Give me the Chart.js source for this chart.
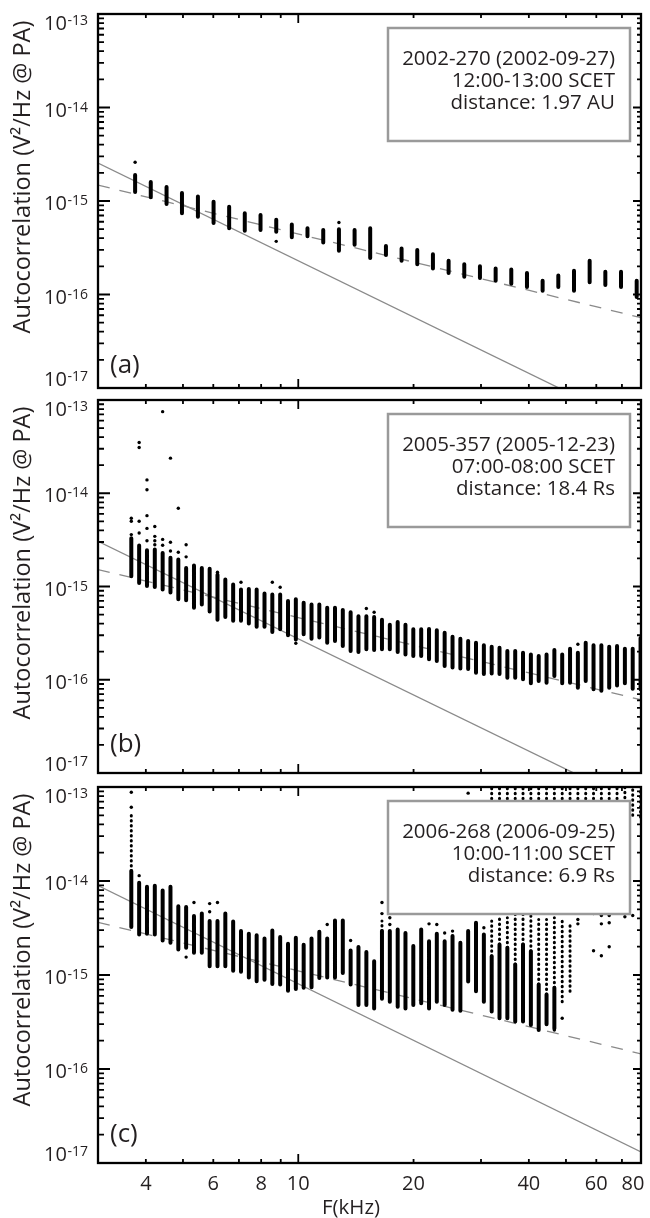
<!DOCTYPE html>
<html>
<head>
<meta charset="utf-8">
<script src="https://cdn.jsdelivr.net/npm/chart.js@4.4.1/dist/chart.umd.min.js"></script>
<style>
  html, body { margin: 0; padding: 0; background: #fff; }
  #wrap { position: relative; width: 650px; height: 1218px; }
  canvas { position: absolute; left: 0; }
</style>
</head>
<body>
<div id="wrap">
  <canvas id="panelA" width="650" height="394" style="top:0px"></canvas>
  <canvas id="panelB" width="650" height="386" style="top:394px"></canvas>
  <canvas id="panelC" width="650" height="438" style="top:780px"></canvas>
</div>
<script>
// frequency channels (kHz)
const freqA = [3.75, 4.12, 4.53, 4.97, 5.47, 6.01, 6.60, 7.25, 7.97, 8.76, 9.62, 10.57, 11.62,
  12.77, 14.03, 15.41, 16.94, 18.61, 20.45, 22.47, 24.69, 27.13, 29.81, 32.76, 35.99, 39.55,
  43.45, 47.75, 52.47, 57.65, 63.35, 69.61, 76.49];
const freqBC = [3.665, 3.842, 4.027, 4.221, 4.425, 4.638, 4.862, 5.096, 5.342, 5.600, 5.870,
  6.153, 6.450, 6.761, 7.087, 7.429, 7.787, 8.163, 8.556, 8.969, 9.402, 9.855, 10.33, 10.83,
  11.35, 11.90, 12.47, 13.07, 13.70, 14.36, 15.06, 15.78, 16.54, 17.34, 18.18, 19.05, 19.97,
  20.94, 21.95, 23.00, 24.11, 25.28, 26.50, 27.77, 29.11, 30.52, 31.99, 33.53, 35.15, 36.85,
  38.62, 40.49, 42.44, 44.49, 46.63, 48.88, 51.24, 53.71, 56.30, 59.01, 61.86, 64.84, 67.97,
  71.25, 74.68, 78.29];

// panel (a): spread of each channel
const lowA = [1.25e-15, 1.1e-15, 9.3e-16, 7.4e-16, 6.8e-16, 5.8e-16, 5.1e-16, 4.8e-16, 4.9e-16,
  4.7e-16, 4.1e-16, 4.2e-16, 3.6e-16, 2.94e-16, 3.4e-16, 2.45e-16, 2.65e-16, 2.3e-16, 2.1e-16,
  1.9e-16, 1.7e-16, 1.55e-16, 1.5e-16, 1.4e-16, 1.3e-16, 1.2e-16, 1.1e-16, 1.2e-16, 1.1e-16,
  1.35e-16, 1.26e-16, 1.2e-16, 9.4e-17];
const highA = [1.9e-15, 1.6e-15, 1.41e-15, 1.22e-15, 1.12e-15, 9.8e-16, 8.7e-16, 7.4e-16, 7.1e-16,
  6.3e-16, 5.6e-16, 5.1e-16, 4.9e-16, 5.0e-16, 4.9e-16, 5.1e-16, 3.3e-16, 3.1e-16, 3.0e-16,
  2.7e-16, 2.3e-16, 2.1e-16, 2.0e-16, 1.9e-16, 1.85e-16, 1.7e-16, 1.4e-16, 1.6e-16, 1.8e-16,
  2.3e-16, 1.75e-16, 1.75e-16, 1.4e-16];
const extraA = [[0, 2.6e-15], [9, 3.7e-16], [13, 5.9e-16]];

// panel (b)
const lowB = [1.29e-15, 1.09e-15, 1.01e-15, 9.9e-16, 9.3e-16, 8.6e-16, 7.3e-16, 7.1e-16, 5.9e-16,
  6.4e-16, 5.4e-16, 4.4e-16, 4.7e-16, 4.3e-16, 4.3e-16, 4.0e-16, 3.7e-16, 3.7e-16, 3.25e-16,
  3.47e-16, 3.0e-16, 2.7e-16, 3.07e-16, 2.76e-16, 2.83e-16, 2.5e-16, 2.6e-16, 2.3e-16, 2.03e-16,
  1.98e-16, 2.12e-16, 2.08e-16, 2.12e-16, 2.12e-16, 1.98e-16, 1.87e-16, 1.8e-16, 1.8e-16,
  1.66e-16, 1.59e-16, 1.4e-16, 1.35e-16, 1.32e-16, 1.3e-16, 1.19e-16, 1.15e-16, 1.17e-16,
  1.15e-16, 1.05e-16, 1.05e-16, 1.01e-16, 9.2e-17, 9.7e-17, 9.3e-17, 1.1e-16, 9.2e-17, 9.3e-17,
  8.2e-17, 9.7e-17, 7.9e-17, 7.6e-17, 8.2e-17, 8.7e-17, 9.2e-17, 8.0e-17, 7.9e-17];
const highB = [3.3e-15, 2.75e-15, 2.45e-15, 2.49e-15, 2.29e-15, 2.03e-15, 1.95e-15, 1.58e-15,
  1.68e-15, 1.58e-15, 1.55e-15, 1.34e-15, 1.19e-15, 1.05e-15, 9.3e-16, 9.4e-16, 9.3e-16, 8.4e-16,
  8.2e-16, 8.2e-16, 7.0e-16, 7.3e-16, 6.7e-16, 6.4e-16, 6.4e-16, 5.9e-16, 5.9e-16, 5.6e-16,
  5.3e-16, 4.8e-16, 4.8e-16, 4.7e-16, 4.4e-16, 3.9e-16, 4.15e-16, 3.9e-16, 3.47e-16, 3.47e-16,
  3.5e-16, 3.4e-16, 3.2e-16, 2.9e-16, 2.76e-16, 2.6e-16, 2.5e-16, 2.34e-16, 2.26e-16, 2.21e-16,
  2.03e-16, 2.03e-16, 1.95e-16, 1.87e-16, 1.8e-16, 1.87e-16, 2.08e-16, 1.87e-16, 2.15e-16,
  1.95e-16, 2.5e-16, 2.34e-16, 2.34e-16, 2.26e-16, 2.3e-16, 2.15e-16, 2.15e-16, 2.8e-16];
const extraB = [[0, 3.6e-15], [0, 5.0e-15], [0, 5.4e-15], [1, 3.5e-14], [1, 3.1e-14], [1, 5.0e-15],
  [1, 3.75e-15], [2, 1.39e-14], [2, 1.09e-14], [2, 5.75e-15], [2, 4.2e-15], [2, 3.1e-15],
  [3, 4.4e-15], [3, 3.45e-15], [3, 3.1e-15], [3, 2.8e-15], [4, 7.5e-14], [4, 3.2e-15],
  [4, 2.77e-15], [5, 2.38e-14], [5, 2.98e-15], [5, 2.4e-15], [6, 6.9e-15], [6, 2.33e-15],
  [7, 2.8e-15], [7, 2.08e-15], [11, 1.42e-15], [14, 1.11e-15], [18, 1.11e-15], [19, 9.8e-16],
  [21, 2.46e-16], [30, 5.8e-16], [31, 5.3e-16], [57, 2.4e-16]];

// panel (c)
const lowC = [3.24e-15, 2.7e-15, 2.75e-15, 2.7e-15, 2.33e-15, 2.2e-15, 1.87e-15, 1.95e-15,
  1.72e-15, 1.72e-15, 1.24e-15, 1.24e-15, 1.24e-15, 1.11e-15, 1.08e-15, 9.4e-16, 8.6e-16, 8.9e-16,
  8.0e-16, 7.9e-16, 6.8e-16, 7.1e-16, 7.3e-16, 7.4e-16, 9.3e-16, 9.4e-16, 9.4e-16, 1.05e-15,
  7.9e-16, 4.8e-16, 4.8e-16, 4.4e-16, 5.6e-16, 5.2e-16, 4.6e-16, 4.4e-16, 4.8e-16, 5.0e-16,
  4.4e-16, 5.2e-16, 4.8e-16, 4.26e-16, 4.16e-16, 8.55e-16, 6.7e-16, 5.2e-16, 4.1e-16, 3.47e-16,
  3.47e-16, 3.2e-16, 3.2e-16, 2.94e-16, 2.6e-16, 3.0e-16, 2.7e-16, null, null, null, null, null,
  null, null, null, null, null, null];
const highC = [1.28e-14, 9.6e-15, 8.7e-15, 8.9e-15, 7.9e-15, 8.7e-15, 5.4e-15, 5.3e-15, 4.24e-15,
  4.5e-15, 3.75e-15, 3.75e-15, 4.5e-15, 3.7e-15, 2.93e-15, 2.75e-15, 2.65e-15, 2.45e-15, 2.98e-15,
  2.53e-15, 2.15e-15, 2.49e-15, 2.1e-15, 2.45e-15, 2.88e-15, 2.45e-15, 3.8e-15, 3.8e-15, 1.82e-15,
  1.98e-15, 1.76e-15, 1.4e-15, 2.93e-15, 2.93e-15, 3.05e-15, 2.8e-15, 2.03e-15, 3.05e-15,
  2.29e-15, 2.75e-15, 2.29e-15, 2.6e-15, 2.2e-15, 2.93e-15, 3.6e-15, 2.7e-15, 1.58e-15, 2.11e-15,
  1.95e-15, 1.29e-15, 2.11e-15, 1.79e-15, 7.9e-16, 6.2e-16, 7.3e-16, null, null, null, null, null,
  null, null, null, null, null, null];
// loosely filled stretches: [channel, low, high]
const sparseC = [[0, 1.28e-14, 5.0e-14], [32, 2.93e-15, 3.75e-15], [46, 1.58e-15, 3.75e-15],
  [47, 2.11e-15, 4.07e-15], [48, 1.95e-15, 4.07e-15], [49, 1.29e-15, 4.42e-15],
  [50, 2.11e-15, 4.42e-15], [51, 1.79e-15, 4.25e-15], [52, 7.9e-16, 3.9e-15],
  [53, 6.2e-16, 3.9e-15], [54, 7.3e-16, 4.07e-15], [55, 5.2e-16, 4.07e-15],
  [56, 6.7e-16, 3.45e-15],
  [46, 7.5e-14, 1.3e-13], [47, 7.5e-14, 1.3e-13], [48, 7.5e-14, 1.3e-13], [49, 7.5e-14, 1.3e-13],
  [50, 7.5e-14, 1.3e-13], [51, 7.5e-14, 1.3e-13], [52, 7.5e-14, 1.3e-13], [53, 7.5e-14, 1.3e-13],
  [54, 7.5e-14, 1.3e-13], [55, 7.5e-14, 1.3e-13], [56, 7.5e-14, 1.3e-13], [57, 7.5e-14, 1.3e-13],
  [58, 7.5e-14, 1.3e-13], [59, 7.5e-14, 1.3e-13], [60, 7.5e-14, 1.3e-13], [61, 7.5e-14, 1.3e-13],
  [62, 7.5e-14, 1.3e-13], [63, 6.0e-14, 1.3e-13], [64, 5.0e-14, 1.3e-13], [65, 4.8e-14, 1.3e-13]];
const extraC = [[0, 8.8e-14], [0, 6.1e-14], [1, 1.14e-14], [7, 1.55e-15], [8, 5.9e-15],
  [10, 5.75e-15], [10, 4.7e-15], [11, 5.9e-15], [25, 3.45e-15], [28, 2.33e-15], [32, 5.9e-15],
  [32, 4.5e-15], [33, 4.07e-15], [33, 3.45e-15], [38, 3.5e-15], [39, 3.45e-15], [40, 2.8e-15],
  [41, 2.93e-15], [43, 8.6e-14], [45, 3.18e-15], [54, 2.6e-16], [55, 3.47e-16], [57, 3.9e-15],
  [57, 3.5e-15], [59, 1.81e-15], [59, 4.5e-15], [60, 1.6e-15], [60, 4.3e-15], [60, 3.5e-15],
  [61, 2.0e-15], [61, 4.3e-15], [61, 3.6e-15], [63, 4.17e-15], [64, 4.3e-15]];

// power-law guide lines, values at the two ends of the axis
const fitX = [3, 78.5];
const solidA = [2.55e-15, 3.73e-18], dashA = [1.48e-15, 5.65e-17];
const solidB = [3.05e-15, 4.46e-18], dashB = [1.52e-15, 6.1e-17];
const solidC = [8.95e-15, 1.31e-17], dashC = [3.63e-15, 1.45e-16];

const xTickLabels = [4, 6, 8, 10, 20, 40, 60, 80];
const xMinor = [4, 5, 6, 7, 8, 9, 20, 30, 40, 50, 60, 70];
const yDecades = [-13, -14, -15, -16, -17];

const boxA = ['2002-270 (2002-09-27)', '12:00-13:00 SCET', 'distance: 1.97 AU'];
const boxB = ['2005-357 (2005-12-23)', '07:00-08:00 SCET', 'distance: 18.4 Rs'];
const boxC = ['2006-268 (2006-09-25)', '10:00-11:00 SCET', 'distance: 6.9 Rs'];

const FONT = '"Open Sans", "Noto Sans", sans-serif';
const INK = '#231f20';
const YTITLE = 'Autocorrelation (V\u00B2/Hz @ PA)';

function columnPoints(freq, lo, hi) {
  const pts = [];
  freq.forEach((f, i) => {
    if (lo[i] == null) return;
    pts.push({ x: f, y: lo[i] }, { x: f, y: hi[i] }, { x: f, y: null });
  });
  return pts;
}
function rangePoints(freq, list) {
  const pts = [];
  list.forEach(([k, lo, hi]) => {
    pts.push({ x: freq[k], y: lo }, { x: freq[k], y: hi }, { x: freq[k], y: null });
  });
  return pts;
}
function dotPoints(freq, list) {
  return list.map(([k, v]) => ({ x: freq[k], y: v }));
}
function fitSize(ctx, text, width) {
  ctx.font = '100px ' + FONT;
  return 100 * width / ctx.measureText(text).width;
}

function decoFor(p) {
  return {
    id: 'deco',
    afterDraw(chart) {
      const { ctx, chartArea: ca, scales: { x, y } } = chart;
      ctx.save();

      // annotation box
      const bx = 388, by = ca.top + 14, bw = 242, bh = 113;
      ctx.fillStyle = '#fff';
      ctx.fillRect(bx, by, bw, bh);
      ctx.strokeStyle = '#9a9a9a';
      ctx.lineWidth = 2.5;
      ctx.strokeRect(bx, by, bw, bh);
      const bs = fitSize(ctx, p.box[0], 213);
      ctx.font = bs + 'px ' + FONT;
      ctx.fillStyle = INK;
      ctx.textAlign = 'right';
      ctx.textBaseline = 'alphabetic';
      p.box.forEach((t, i) => ctx.fillText(t, 615, ca.top + 44 + 22 * i + 0.36 * bs));

      // frame
      ctx.strokeStyle = '#000';
      ctx.lineWidth = 2.3;
      ctx.strokeRect(ca.left, ca.top, ca.right - ca.left, ca.bottom - ca.top);

      // ticks, pointing inward
      ctx.lineWidth = 1.8;
      ctx.beginPath();
      yDecades.forEach(d => {
        for (let m = 1; m <= 9; m++) {
          if (d === -13 && m > 1) continue;
          const py = y.getPixelForValue(m * Math.pow(10, d));
          const major = m === 1;
          ctx.moveTo(ca.left, py); ctx.lineTo(ca.left + (major ? 12 : 6), py);
          ctx.moveTo(ca.right, py); ctx.lineTo(ca.right - (major ? 8 : 4), py);
        }
      });
      xMinor.concat([10]).forEach(v => {
        const px = x.getPixelForValue(v);
        const len = v === 10 ? 9 : 4;
        ctx.moveTo(px, ca.top); ctx.lineTo(px, ca.top + len);
        ctx.moveTo(px, ca.bottom); ctx.lineTo(px, ca.bottom - len);
      });
      ctx.stroke();

      // y tick labels 10^n
      ctx.fillStyle = INK;
      ctx.textAlign = 'right';
      yDecades.forEach(d => {
        const py = y.getPixelForValue(Math.pow(10, d));
        const cy = Math.min(Math.max(py + 2, ca.top + 9), ca.bottom - 9);
        const base = cy + 7;
        ctx.font = '14px ' + FONT;
        const ex = String(d);
        const ew = ctx.measureText(ex).width;
        ctx.fillText(ex, 88, base - 5);
        ctx.font = '20px ' + FONT;
        ctx.fillText('10', 88 - ew - 0.5, base);
      });

      // y title
      const ts = fitSize(ctx, YTITLE, 313);
      ctx.save();
      ctx.translate(30, ca.top + 163);
      ctx.rotate(-Math.PI / 2);
      ctx.font = ts + 'px ' + FONT;
      ctx.textAlign = 'center';
      ctx.fillText(YTITLE, 0, 0);
      ctx.restore();

      // panel label
      ctx.font = '26px ' + FONT;
      ctx.textAlign = 'left';
      ctx.fillText(p.label, 110, ca.bottom - p.labelUp + 7);

      // x tick labels on the bottom panel
      if (p.xLabels) {
        ctx.font = '20px ' + FONT;
        ctx.textAlign = 'center';
        xTickLabels.forEach(v => {
          const px = Math.min(x.getPixelForValue(v), ca.right - 8);
          ctx.fillText(String(v), px, ca.bottom + 26.5);
        });
        const fs = fitSize(ctx, 'F(kHz)', 58);
        ctx.font = fs + 'px ' + FONT;
        ctx.textAlign = 'left';
        ctx.fillText('F(kHz)', 322, ca.bottom + 51);
      }
      ctx.restore();
    }
  };
}

function makePanel(id, p) {
  const datasets = [
    { data: columnPoints(p.freq, p.low, p.high), borderColor: '#000', borderWidth: 4,
      borderCapStyle: 'round', pointRadius: 0, spanGaps: false, clip: 0 },
    { data: rangePoints(p.freq, p.sparse), borderColor: '#000', borderWidth: 3,
      borderDash: [0.5, 4.5], borderCapStyle: 'round', pointRadius: 0, spanGaps: false, clip: 0 },
    { data: dotPoints(p.freq, p.extra), showLine: false, pointRadius: 1.7,
      pointBackgroundColor: '#000', pointBorderWidth: 0, clip: 0 },
    { data: [{ x: fitX[0], y: p.solid[0] }, { x: fitX[1], y: p.solid[1] }],
      borderColor: '#8a8a8a', borderWidth: 1.3, pointRadius: 0, clip: 0 },
    { data: [{ x: fitX[0], y: p.dash[0] }, { x: fitX[1], y: p.dash[1] }],
      borderColor: '#8a8a8a', borderWidth: 1.3, borderDash: [12, 10], pointRadius: 0, clip: 0 }
  ];
  new Chart(document.getElementById(id), {
    type: 'line',
    data: { datasets },
    options: {
      responsive: false,
      animation: false,
      events: [],
      layout: { padding: p.pad },
      elements: { line: { tension: 0 } },
      scales: {
        x: { type: 'logarithmic', min: 3, max: 78.5, display: false },
        y: { type: 'logarithmic', min: 1e-17, max: 1e-13, display: false }
      },
      plugins: { legend: { display: false }, tooltip: { enabled: false } }
    },
    plugins: [decoFor(p)]
  });
}

makePanel('panelA', { freq: freqA, low: lowA, high: highA, sparse: [], extra: extraA,
  solid: solidA, dash: dashA, box: boxA, label: '(a)', labelUp: 22,
  pad: { left: 98, right: 9, top: 14, bottom: 6 } });
makePanel('panelB', { freq: freqBC, low: lowB, high: highB, sparse: [], extra: extraB,
  solid: solidB, dash: dashB, box: boxB, label: '(b)', labelUp: 28,
  pad: { left: 98, right: 9, top: 6, bottom: 7 } });
makePanel('panelC', { freq: freqBC, low: lowC, high: highC, sparse: sparseC, extra: extraC,
  solid: solidC, dash: dashC, box: boxC, label: '(c)', labelUp: 28, xLabels: true,
  pad: { left: 98, right: 9, top: 7, bottom: 55 } });
</script>
</body>
</html>
